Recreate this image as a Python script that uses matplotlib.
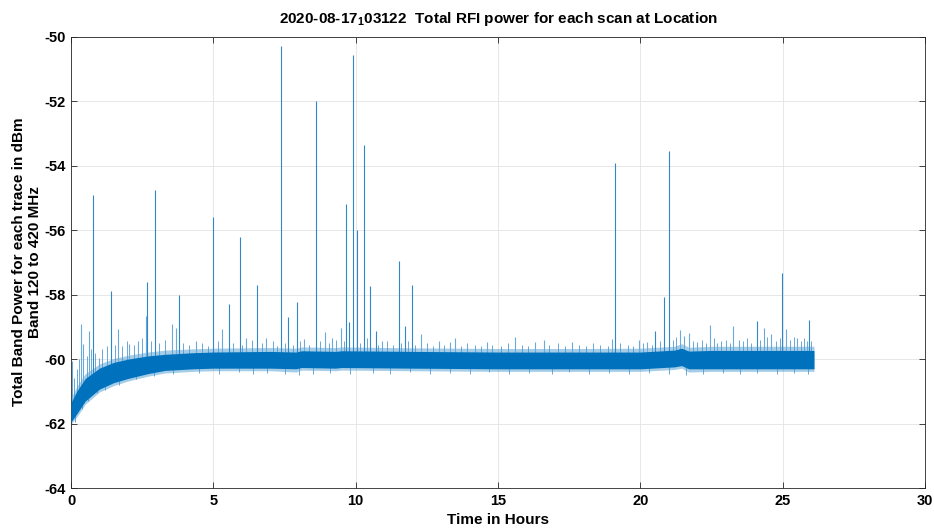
import numpy as np
import matplotlib
matplotlib.use("Agg")
import matplotlib.pyplot as plt
from matplotlib import font_manager

# ---------------- data ----------------
# baseline noise band: time (h), core low/high, halo low/high (dBm)
base_t  = [0.0, 0.2, 0.5, 1.0, 1.5, 2.0, 2.7, 3.3, 4.3, 5.0, 7.0, 7.9, 8.1, 9.3, 9.5,
           12.0, 15.0, 18.0, 20.0, 21.2, 21.45, 21.7, 22.5, 24.0, 26.1]
core_lo = [-61.95, -61.7, -61.3, -60.93, -60.73, -60.6, -60.45, -60.35, -60.3, -60.28,
           -60.28, -60.3, -60.26, -60.28, -60.26, -60.28, -60.3, -60.3, -60.3, -60.24,
           -60.2, -60.3, -60.3, -60.3, -60.3]
core_hi = [-61.35, -61.0, -60.6, -60.28, -60.1, -60.0, -59.9, -59.85, -59.8, -59.78,
           -59.76, -59.78, -59.74, -59.76, -59.74, -59.76, -59.78, -59.78, -59.78, -59.72,
           -59.66, -59.75, -59.73, -59.73, -59.73]
halo_lo = [-62.02, -61.8, -61.4, -61.02, -60.82, -60.68, -60.53, -60.43, -60.38, -60.36,
           -60.36, -60.4, -60.34, -60.36, -60.34, -60.36, -60.38, -60.38, -60.38, -60.32,
           -60.28, -60.4, -60.38, -60.38, -60.38]
halo_hi = [-61.2, -60.85, -60.45, -60.15, -59.98, -59.88, -59.78, -59.72, -59.68, -59.66,
           -59.64, -59.66, -59.62, -59.64, -59.62, -59.65, -59.67, -59.67, -59.66, -59.6,
           -59.52, -59.63, -59.6, -59.6, -59.6]

# large RFI spikes: time (h), peak (dBm)
spike_t = [0.77, 1.41, 2.68, 2.95, 3.79, 4.98, 5.54, 5.92, 6.53, 7.37, 7.64, 7.94,
           8.60, 9.67, 9.75, 9.89, 10.06, 10.29, 10.52, 10.70, 11.52, 11.75, 11.98,
           19.10, 20.53, 20.83, 21.00, 24.09, 24.99, 25.93]
spike_v = [-54.9, -57.9, -57.6, -54.75, -58.0, -55.6, -58.3, -56.2, -57.7, -50.28,
           -58.7, -58.24, -51.98, -55.17, -58.86, -50.56, -56.0, -53.35, -57.73,
           -59.12, -56.96, -58.96, -57.7, -53.9, -59.12, -58.07, -53.54, -58.81,
           -57.33, -58.79]

# medium excursions above the noise band
hair_t = [0.03, 0.35, 0.43, 0.64, 0.99, 1.66, 2.04, 2.37, 2.63, 3.54, 3.68, 4.40,
          5.31, 6.15, 6.85, 8.19, 8.93, 9.18, 9.47, 10.93, 12.30, 12.92, 13.32, 13.48,
          14.60, 15.60, 16.30, 16.60, 17.60, 19.02, 19.97, 20.24, 21.38, 21.55, 21.70,
          22.00, 22.44, 22.70, 23.26, 23.45, 24.33, 24.60, 25.10, 25.50, 25.85]
hair_v = [-60.05, -58.91, -59.53, -59.12, -59.95, -59.07, -59.53, -59.43, -58.65,
          -58.91, -59.02, -59.43, -59.07, -59.33, -59.33, -59.38, -59.17, -59.33,
          -59.02, -59.43, -59.22, -59.43, -59.48, -59.33, -59.48, -59.31, -59.48,
          -59.41, -59.48, -59.38, -59.41, -59.48, -59.10, -59.27, -59.20, -59.48,
          -58.93, -59.50, -58.96, -59.41, -59.02, -59.22, -59.07, -59.33, -59.43]

# small upward flickers of the noise
flick_t = [0.10, 0.20, 0.28, 0.55, 0.70, 0.85, 1.10, 1.25, 1.55, 1.80, 1.95, 2.20,
           2.50, 2.80, 3.10, 3.30, 3.95, 4.15, 4.60, 4.80, 5.15, 5.70, 6.00, 6.35,
           6.70, 7.10, 7.25, 7.50, 7.80, 8.05, 8.35, 8.75, 9.05, 9.30, 9.60, 10.15,
           10.40, 10.80, 11.10, 11.30, 11.60, 11.85, 12.10, 12.50, 12.70, 13.10, 13.70,
           13.90, 14.20, 14.40, 14.80, 15.10, 15.35, 15.85, 16.05, 16.80, 17.10, 17.35,
           17.85, 18.10, 18.35, 18.60, 18.85, 19.30, 19.55, 19.75, 20.10, 20.40, 20.70,
           21.15, 21.25, 21.85, 22.15, 22.30, 22.60, 22.85, 23.00, 23.15, 23.60, 23.75,
           23.90, 24.20, 24.45, 24.75, 24.90, 25.25, 25.40, 25.65, 25.75, 26.00]
flick_v = [-60.60, -60.30, -60.00, -59.90, -59.70, -59.80, -59.70, -59.60, -59.55,
           -59.60, -59.45, -59.55, -59.35, -59.45, -59.50, -59.40, -59.50, -59.55,
           -59.50, -59.60, -59.45, -59.50, -59.55, -59.40, -59.50, -59.45, -59.60,
           -59.50, -59.55, -59.45, -59.55, -59.45, -59.50, -59.40, -59.45, -59.50,
           -59.35, -59.55, -59.45, -59.55, -59.50, -59.45, -59.55, -59.50, -59.60,
           -59.55, -59.60, -59.50, -59.55, -59.60, -59.55, -59.60, -59.50, -59.55,
           -59.60, -59.55, -59.50, -59.60, -59.55, -59.60, -59.50, -59.55, -59.60,
           -59.50, -59.55, -59.60, -59.50, -59.55, -59.45, -59.40, -59.30, -59.45,
           -59.40, -59.50, -59.35, -59.45, -59.40, -59.50, -59.45, -59.35, -59.50,
           -59.40, -59.30, -59.45, -59.35, -59.40, -59.30, -59.45, -59.35, -59.45]

# small downward flickers of the noise
dip_t = [0.15, 0.40, 0.60, 0.90, 1.20, 1.70, 2.30, 2.90, 3.60, 4.50, 5.20, 5.90,
         6.40, 6.90, 7.50, 8.00, 8.50, 9.10, 9.80, 10.60, 11.20, 11.90, 12.60, 13.30,
         14.00, 14.70, 15.40, 16.10, 16.90, 17.50, 18.20, 18.90, 19.60, 20.30, 21.00,
         21.60, 22.20, 22.90, 23.50, 24.10, 24.80, 25.40, 25.90]
dip_v = [-61.95, -61.55, -61.30, -61.05, -60.95, -60.80, -60.62, -60.52, -60.45,
         -60.42, -60.45, -60.40, -60.45, -60.42, -60.45, -60.50, -60.45, -60.42,
         -60.45, -60.42, -60.45, -60.40, -60.45, -60.42, -60.45, -60.40, -60.45,
         -60.42, -60.45, -60.40, -60.45, -60.42, -60.45, -60.42, -60.45, -60.50,
         -60.45, -60.42, -60.45, -60.42, -60.45, -60.42, -60.45]

x_ticks = [0, 5, 10, 15, 20, 25, 30]
y_ticks = [-64, -62, -60, -58, -56, -54, -52, -50]

title = r"2020-08-17$_{\mathregular{1}}$03122  Total RFI power for each scan at Location"
x_label = "Time in Hours"
y_label = "Total Band Power for each trace in dBm\nBand 120 to 420 MHz"

# ---------------- style ----------------
avail = {f.name for f in font_manager.fontManager.ttflist}
fam = [f for f in ["Liberation Sans Narrow", "Liberation Sans", "DejaVu Sans"] if f in avail]
plt.rcParams["font.family"] = fam
plt.rcParams["mathtext.fontset"] = "custom"
plt.rcParams["mathtext.rm"] = fam[0] + ":bold"
plt.rcParams["axes.unicode_minus"] = False

LINE = "#0072BD"
AXC = "#262626"

fig = plt.figure(figsize=(9.34, 5.30), dpi=100)
L, R, T, B = 71, 925, 37, 488
ax = fig.add_axes([L / 934, 1 - B / 530, (R - L) / 934, (B - T) / 530])

bt = np.array(base_t)
ax.fill_between(bt, halo_lo, halo_hi, color=LINE, alpha=0.35, lw=0, zorder=2)

center = (np.array(core_lo) + np.array(core_hi)) / 2
fb = np.interp(flick_t, bt, center)
ax.vlines(flick_t, fb, flick_v, color="#4F9AD2", lw=0.6, zorder=3)
db = np.interp(dip_t, bt, center)
ax.vlines(dip_t, db, dip_v, color="#4F9AD2", lw=0.6, zorder=3)
hb = np.interp(hair_t, bt, center)
ax.vlines(hair_t, hb, hair_v, color="#6AAADB", lw=0.8, zorder=3)
sb = np.interp(spike_t, bt, center)
ax.vlines(spike_t, sb, spike_v, color="#2F86C8", lw=0.8, zorder=3)

ax.fill_between(bt, core_lo, core_hi, color=LINE, alpha=1.0, lw=0, zorder=4)

ax.set_xlim(0, 30)
ax.set_ylim(-64, -50)
ax.set_xticks(x_ticks)
ax.set_yticks(y_ticks)
ax.grid(True, color="#E3E3E3", lw=0.6)
ax.set_axisbelow(True)
for s in ax.spines.values():
    s.set_color(AXC)
    s.set_linewidth(0.6)
ax.tick_params(direction="in", length=4, width=0.6, color=AXC,
               top=True, right=True, labelsize=10.5, labelcolor="black", pad=4)
for lab in ax.get_xticklabels() + ax.get_yticklabels():
    lab.set_fontweight("bold")

fig.text((L + R) / 2 / 934, 1 - 19 / 530, title, fontsize=11, fontweight="bold",
         ha="center", va="center")
fig.text((L + R) / 2 / 934, 1 - 520 / 530, x_label, fontsize=11, fontweight="bold",
         ha="center", va="center")
fig.text(27 / 934, 1 - 262 / 530, y_label, fontsize=11, fontweight="bold",
         ha="center", va="center", rotation=90, multialignment="center",
         linespacing=1.15)

fig.savefig("out.png", dpi=100)
